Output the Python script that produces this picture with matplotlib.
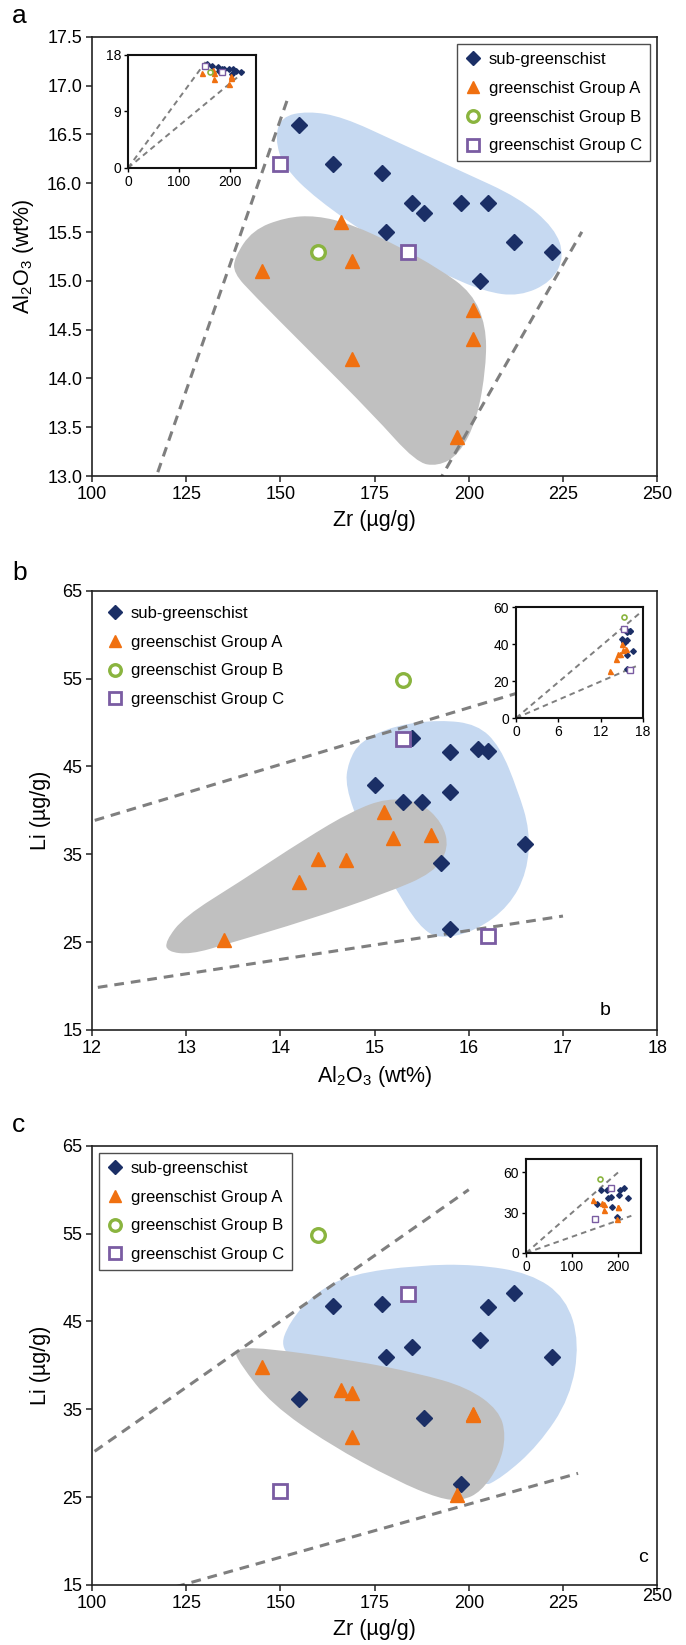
import numpy as np
import matplotlib
matplotlib.use('Agg')
import matplotlib.pyplot as plt
from matplotlib.path import Path
from matplotlib.patches import PathPatch
from matplotlib.transforms import ScaledTranslation

plt.rcParams['font.family'] = ['Liberation Sans', 'DejaVu Sans']
plt.rcParams['mathtext.fontset'] = 'custom'
plt.rcParams['mathtext.rm'] = 'Liberation Sans'
plt.rcParams['mathtext.it'] = 'Liberation Sans'
plt.rcParams['mathtext.default'] = 'regular'
plt.rcParams['lines.scale_dashes'] = False

# ---- data ----
sub_zr = [155, 164, 177, 185, 188, 178, 198, 205, 212, 222, 203]
sub_al = [16.6, 16.2, 16.1, 15.8, 15.7, 15.5, 15.8, 15.8, 15.4, 15.3, 15.0]
sub_li = [36.2, 46.8, 47.0, 42.1, 34.0, 40.9, 26.5, 46.6, 48.2, 41.0, 42.9]

ga_zr = [166, 145, 169, 169, 201, 201, 197]
ga_al = [15.6, 15.1, 15.2, 14.2, 14.7, 14.4, 13.4]
ga_li = [37.2, 39.8, 36.8, 31.8, 34.4, 34.5, 25.2]

gb_zr = [160]
gb_al = [15.3]
gb_li = [54.8]

gc_zr = [150, 184]
gc_al = [16.2, 15.3]
gc_li = [25.7, 48.1]

labels = ['sub-greenschist', 'greenschist Group A', 'greenschist Group B', 'greenschist Group C']

# reference lines through the origin: slope and end x
lines_a = [(0.111, 152), (0.0674, 230)]
lines_b = [(3.23, 17.5), (1.645, 17.0)]
lines_c = [(0.30, 200), (0.121, 229)]

# hand-drawn field outlines
blue_a_x = [150.2, 157.2, 166.6, 180.6, 198.2, 213.4, 222.8, 225.4, 222.0, 213.4, 204.1, 192.3, 175.9, 159.5, 150.8, 148.6]
blue_a_y = [16.68, 16.74, 16.68, 16.43, 16.12, 15.85, 15.54, 15.25, 14.99, 14.84, 14.89, 15.09, 15.40, 15.84, 16.17, 16.46]
grey_a_x = [137.8, 142.6, 151.3, 159.5, 168.9, 180.6, 192.3, 200.8, 204.6, 204.6, 202.2, 197.4, 191.8, 186.0, 174.6, 157.0, 142.8, 137.6]
grey_a_y = [15.24, 15.52, 15.65, 15.67, 15.58, 15.37, 15.12, 14.88, 14.54, 14.12, 13.58, 13.22, 13.10, 13.14, 13.63, 14.31, 14.86, 15.08]

blue_b_x = [14.85, 15.23, 15.69, 16.09, 16.33, 16.52, 16.65, 16.62, 16.43, 16.08, 15.69, 15.47, 15.20, 14.86, 14.69, 14.72]
blue_b_y = [47.9, 49.7, 50.3, 49.8, 47.3, 42.3, 37.7, 33.0, 29.1, 26.3, 25.3, 26.8, 31.5, 37.7, 42.7, 45.5]
grey_b_x = [12.78, 12.98, 13.56, 14.27, 14.76, 15.13, 15.48, 15.72, 15.79, 15.63, 15.13, 14.29, 13.44, 13.05, 12.80]
grey_b_y = [25.1, 27.9, 31.8, 36.8, 39.9, 41.4, 41.0, 38.6, 35.7, 32.9, 30.6, 27.5, 24.8, 23.6, 23.9]

blue_c_x = [149.8, 152.3, 159.3, 168.9, 186.5, 201.7, 216.3, 225.8, 229.4, 226.9, 218.5, 208.8, 202.5, 180.6, 157.2]
blue_c_y = [41.8, 44.9, 48.3, 50.4, 51.4, 51.5, 50.5, 47.7, 42.6, 36.3, 30.9, 27.2, 25.9, 35.7, 39.8]
grey_c_x = [137.6, 145.5, 168.9, 186.5, 199.6, 208.0, 209.9, 208.1, 203.2, 198.2, 192.3, 180.6, 163.0, 147.6, 139.2]
grey_c_y = [41.9, 42.0, 40.6, 39.1, 37.5, 34.9, 32.0, 28.6, 25.6, 24.6, 24.8, 26.9, 31.0, 35.6, 40.2]

navy = '#1b2f66'
orange = '#f07010'
green = '#8ab43f'
purple = '#7a5ca2'
blue_fill = '#c6d9f1'
grey_fill = '#c0c0c0'
dash_col = '#7f7f7f'


def blob(ax, xs, ys, color):
    pts = np.column_stack([xs, ys])
    mids = (pts + np.roll(pts, -1, axis=0)) / 2
    verts = [mids[-1]]
    codes = [Path.MOVETO]
    for i in range(len(pts)):
        verts += [pts[i], mids[i]]
        codes += [Path.CURVE3, Path.CURVE3]
    verts.append(mids[-1])
    codes.append(Path.CLOSEPOLY)
    ax.add_patch(PathPatch(Path(verts, codes), facecolor=color, edgecolor='none', zorder=1))


def ref_lines(ax, lines, lw, dash):
    for slope, xend in lines:
        xx = np.array([0, xend])
        ax.plot(xx, slope * xx, color=dash_col, lw=lw, ls=(0, dash), zorder=2, solid_capstyle='butt')


def scatter_all(ax, x_lists, y_lists, small=False):
    ms = 3.6 if small else 9.8
    mew = 1.0 if small else 2.0
    sx, ax_, bx, cx = x_lists
    sy, ay, by, cy = y_lists
    ax.plot(sx, sy, ls='none', marker='D', ms=ms * 0.8, color=navy, mec=navy, label=labels[0], zorder=4)
    ax.plot(ax_, ay, ls='none', marker='^', ms=ms, color=orange, mec=orange, label=labels[1], zorder=4)
    ax.plot(bx, by, ls='none', marker='o', ms=ms, mfc='white', mec=green, mew=mew * 1.2, label=labels[2], zorder=4)
    ax.plot(cx, cy, ls='none', marker='s', ms=ms * 1.05, mfc='white', mec=purple, mew=mew, label=labels[3], zorder=4)


def style_main(ax, xlabel, ylabel):
    for s in ax.spines.values():
        s.set_linewidth(1.2)
        s.set_color('#222222')
    ax.tick_params(direction='out', length=4, width=1.1, labelsize=13, pad=3, color='#222222')
    ax.set_xlabel(xlabel, fontsize=15.5, labelpad=5)
    ax.set_ylabel(ylabel, fontsize=15.5, labelpad=8)


def style_inset(ax):
    ax.set_facecolor('white')
    for s in ax.spines.values():
        s.set_linewidth(1.5)
        s.set_color('#111111')
    ax.tick_params(direction='out', length=3, width=1.0, labelsize=10, pad=2)


def legend(ax, loc, frame):
    lg = ax.legend(loc=loc, frameon=frame, fancybox=False, fontsize=12, numpoints=1,
                   handlelength=1.0, handletextpad=0.45, labelspacing=0.83, borderpad=0.45,
                   borderaxespad=0.45, markerscale=0.85)
    if frame:
        lg.get_frame().set_edgecolor('#222222')
        lg.get_frame().set_linewidth(1.0)
    return lg


fig = plt.figure(figsize=(6.86, 16.45), dpi=100)

# ---------------- panel a ----------------
ax = fig.add_axes([0.134, 0.7106, 0.824, 0.267])
blob(ax, blue_a_x, blue_a_y, blue_fill)
blob(ax, grey_a_x, grey_a_y, grey_fill)
ref_lines(ax, lines_a, 2.2, (7, 5))
scatter_all(ax, [sub_zr, ga_zr, gb_zr, gc_zr], [sub_al, ga_al, gb_al, gc_al])
ax.set_xlim(100, 250)
ax.set_ylim(13.0, 17.5)
ax.set_xticks(np.arange(100, 251, 25))
ax.set_yticks(np.arange(13.0, 17.51, 0.5))
ax.set_yticklabels(['%.1f' % v for v in np.arange(13.0, 17.51, 0.5)])
style_main(ax, 'Zr (µg/g)', 'Al$_2$O$_3$ (wt%)')
legend(ax, 'upper right', True)
fig.text(0.018, 1 - 23 / 1645, 'a', fontsize=19, va='baseline')

ins = fig.add_axes([0.1866, 0.8979, 0.186, 0.0687])
ref_lines(ins, lines_a, 1.4, (4, 3))
scatter_all(ins, [sub_zr, ga_zr, gb_zr, gc_zr], [sub_al, ga_al, gb_al, gc_al], small=True)
ins.set_xlim(0, 250)
ins.set_ylim(0, 18)
ins.set_xticks([0, 100, 200])
ins.set_yticks([0, 9, 18])
style_inset(ins)

# ---------------- panel b ----------------
ax = fig.add_axes([0.134, 0.3739, 0.824, 0.267])
blob(ax, blue_b_x, blue_b_y, blue_fill)
blob(ax, grey_b_x, grey_b_y, grey_fill)
ref_lines(ax, lines_b, 2.2, (7, 5))
scatter_all(ax, [sub_al, ga_al, gb_al, gc_al], [sub_li, ga_li, gb_li, gc_li])
ax.set_xlim(12, 18)
ax.set_ylim(15, 65)
ax.set_xticks(np.arange(12, 19, 1))
ax.set_yticks(np.arange(15, 66, 10))
style_main(ax, 'Al$_2$O$_3$ (wt%)', 'Li (µg/g)')
legend(ax, 'upper left', False)
ax.text(0.908, 0.035, 'b', transform=ax.transAxes, fontsize=14, ha='center', va='baseline')
fig.text(0.018, 1 - 580 / 1645, 'b', fontsize=19, va='baseline')

ins = fig.add_axes([0.7522, 0.5635, 0.185, 0.0675])
ref_lines(ins, lines_b, 1.4, (4, 3))
scatter_all(ins, [sub_al, ga_al, gb_al, gc_al], [sub_li, ga_li, gb_li, gc_li], small=True)
ins.set_xlim(0, 18)
ins.set_ylim(0, 60)
ins.set_xticks([0, 6, 12, 18])
ins.set_yticks([0, 20, 40, 60])
style_inset(ins)

# ---------------- panel c ----------------
ax = fig.add_axes([0.134, 0.0365, 0.824, 0.267])
blob(ax, blue_c_x, blue_c_y, blue_fill)
blob(ax, grey_c_x, grey_c_y, grey_fill)
ref_lines(ax, lines_c, 2.2, (7, 5))
scatter_all(ax, [sub_zr, ga_zr, gb_zr, gc_zr], [sub_li, ga_li, gb_li, gc_li])
ax.set_xlim(100, 250)
ax.set_ylim(15, 65)
ax.set_xticks(np.arange(100, 251, 25))
ax.set_yticks(np.arange(15, 66, 10))
style_main(ax, 'Zr (µg/g)', 'Li (µg/g)')
# the last tick label sits a little higher in the original
last = ax.get_xticklabels()[-1]
last.set_transform(last.get_transform() + ScaledTranslation(0, 7 / 100, fig.dpi_scale_trans))
legend(ax, 'upper left', True)
ax.text(0.975, 0.052, 'c', transform=ax.transAxes, fontsize=14, ha='center', va='baseline')
fig.text(0.018, 1 - 1132 / 1645, 'c', fontsize=19, va='baseline')

ins = fig.add_axes([0.7668, 0.2383, 0.1676, 0.0571])
ref_lines(ins, lines_c, 1.4, (4, 3))
scatter_all(ins, [sub_zr, ga_zr, gb_zr, gc_zr], [sub_li, ga_li, gb_li, gc_li], small=True)
ins.set_xlim(0, 250)
ins.set_ylim(0, 70)
ins.set_xticks([0, 100, 200])
ins.set_yticks([0, 30, 60])
style_inset(ins)

fig.savefig('out.png', dpi=100)
